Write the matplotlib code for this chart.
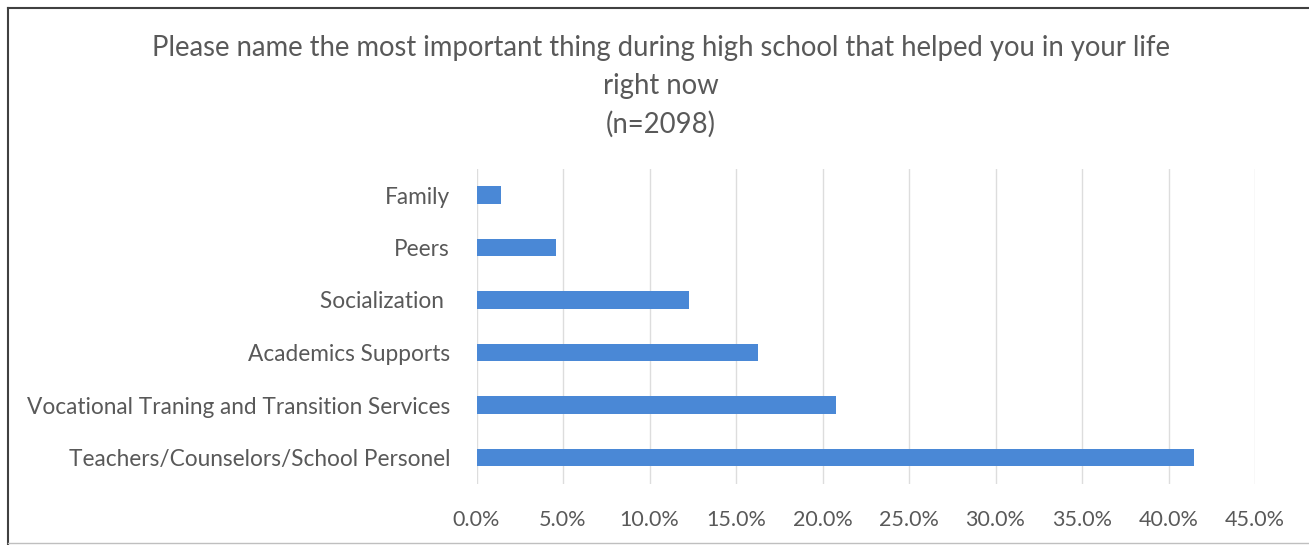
import matplotlib
matplotlib.use("Agg")
import matplotlib.pyplot as plt
from matplotlib.ticker import FuncFormatter
from matplotlib.lines import Line2D

categories = [
    "Teachers/Counselors/School Personel",
    "Vocational Traning and Transition Services",
    "Academics Supports",
    "Socialization ",
    "Peers",
    "Family",
]
percentages = [41.5, 20.8, 16.3, 12.3, 4.6, 1.4]
x_ticks = [0, 5, 10, 15, 20, 25, 30, 35, 40, 45]
title_lines = [
    "Please name the most important thing during high school that helped you in your life",
    "right now",
    "(n=2098)",
]

TEXT = "#595959"
BAR = "#4A88D6"
GRID = "#DDDDDD"
FONT = ["Lato", "DejaVu Sans"]
plt.rcParams["font.family"] = FONT

W, H = 1309, 545
fig = plt.figure(figsize=(W / 100, H / 100), dpi=100)
fig.patch.set_facecolor("white")

ax = fig.add_axes([476.5 / W, 1 - 483.75 / H, (1255 - 476.5) / W, (483.75 - 168.75) / H])
y = list(range(len(categories)))
ax.barh(y, percentages, height=0.33, color=BAR, zorder=3)
ax.set_ylim(-0.5, len(categories) - 0.5)
ax.set_xlim(0, 45)
ax.set_yticks(y)
ax.set_yticklabels(categories, fontsize=16.3, color=TEXT)
ax.set_xticks(x_ticks)
ax.xaxis.set_major_formatter(FuncFormatter(lambda v, p: f"{v:.1f}%"))
ax.tick_params(axis="x", labelsize=15.5, labelcolor=TEXT, length=0, pad=19)
ax.tick_params(axis="y", length=0, pad=19)
ax.grid(axis="x", color=GRID, linewidth=1, zorder=0)
for s in ax.spines.values():
    s.set_visible(False)

for i, line in enumerate(title_lines):
    fig.text(661 / W, 1 - (48 + 38 * i) / H, line, ha="center", va="center",
             fontsize=19.8, color=TEXT)

# chart frame
fig.add_artist(Line2D([8 / W, 8 / W], [0, 1 - 8 / H], transform=fig.transFigure,
                      color="#404040", linewidth=1.5))
fig.add_artist(Line2D([8 / W, 1], [1 - 8 / H, 1 - 8 / H], transform=fig.transFigure,
                      color="#404040", linewidth=1.5))
fig.add_artist(Line2D([8 / W, 1], [2 / H, 2 / H], transform=fig.transFigure,
                      color="#BFBFBF", linewidth=1))

fig.savefig("out.png", dpi=100, facecolor="white")
